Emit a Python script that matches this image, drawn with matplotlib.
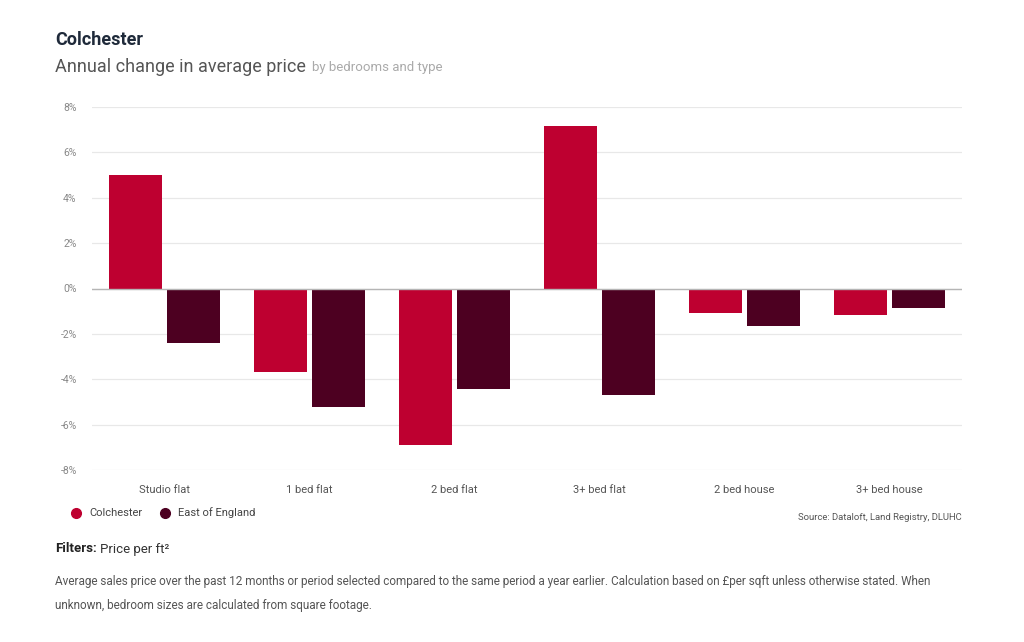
import matplotlib
matplotlib.use("Agg")
import matplotlib.pyplot as plt
import numpy as np
from matplotlib.lines import Line2D

plt.rcParams['font.family'] = ['Roboto', 'DejaVu Sans']

# Annual change in average price (%)
categories = ["Studio flat", "1 bed flat", "2 bed flat", "3+ bed flat", "2 bed house", "3+ bed house"]
colchester = [5.02, -3.66, -6.92, 7.18, -1.10, -1.19]
east_of_england = [-2.42, -5.24, -4.45, -4.71, -1.67, -0.88]
y_ticks = [-8, -6, -4, -2, 0, 2, 4, 6, 8]

red = '#BE0030'
maroon = '#4D0021'

fig = plt.figure(figsize=(10.24, 6.42), dpi=100)
ax = fig.add_axes([92 / 1024, 1 - 470 / 642, 870 / 1024, 363 / 642])

x = np.arange(len(categories))
w = 0.366
ax.bar(x - 0.2, colchester, w, color=red, zorder=3)
ax.bar(x + 0.2, east_of_england, w, color=maroon, zorder=3)

ax.set_xlim(-0.5, len(categories) - 0.5)
ax.set_ylim(-8, 8)
ax.set_yticks(y_ticks)
ax.set_yticklabels([f"{t}%" for t in y_ticks])
ax.set_xticks(x)
ax.set_xticklabels(categories)
ax.grid(axis='y', color='#e8e8e8', linewidth=0.9, zorder=0)
ax.axhline(0, color='#b5b5b5', linewidth=1, zorder=4)
for s in ax.spines.values():
    s.set_visible(False)
ax.tick_params(axis='y', length=0, pad=11, labelsize=7.5, labelcolor='#888888')
ax.tick_params(axis='x', length=0, pad=11, labelsize=8, labelcolor='#555555')

# legend
handles = [Line2D([], [], marker='o', linestyle='', markersize=7, color=red),
           Line2D([], [], marker='o', linestyle='', markersize=7, color=maroon)]
fig.legend(handles, ["Colchester", "East of England"], loc='center left',
           bbox_to_anchor=(55 / 1024, 1 - 513 / 642), ncol=2, frameon=False,
           fontsize=8, handletextpad=0.2, columnspacing=1.0, labelcolor='#444444')

fig.text(962 / 1024, 1 - 518 / 642, "Source: Dataloft, Land Registry, DLUHC",
         ha='right', va='center', fontsize=6.8, color='#555555')

# titles
fig.text(55 / 1024, 1 - 40 / 642, "Colchester", fontsize=13, fontweight='bold',
         color='#1f2a3a', va='center')
fig.text(55 / 1024, 1 - 67 / 642, "Annual change in average price", fontsize=13,
         color='#555555', va='center')
fig.text(312 / 1024, 1 - 68 / 642, "by bedrooms and type", fontsize=9.5,
         color='#aaaaaa', va='center')

# filters and notes
fig.text(55 / 1024, 1 - 549 / 642, "Filters:", fontsize=9.5, fontweight='bold',
         color='#222222', va='center')
fig.text(100 / 1024, 1 - 549 / 642, "Price per ft²", fontsize=9.5,
         color='#333333', va='center')
fig.text(55 / 1024, 1 - 582 / 642,
         "Average sales price over the past 12 months or period selected compared to the same period a year earlier. "
         "Calculation based on £per sqft unless otherwise stated. When",
         fontsize=8.45, color='#555555', va='center')
fig.text(55 / 1024, 1 - 605 / 642, "unknown, bedroom sizes are calculated from square footage.",
         fontsize=8.45, color='#555555', va='center')

fig.savefig("out.png", dpi=100, facecolor='white')
